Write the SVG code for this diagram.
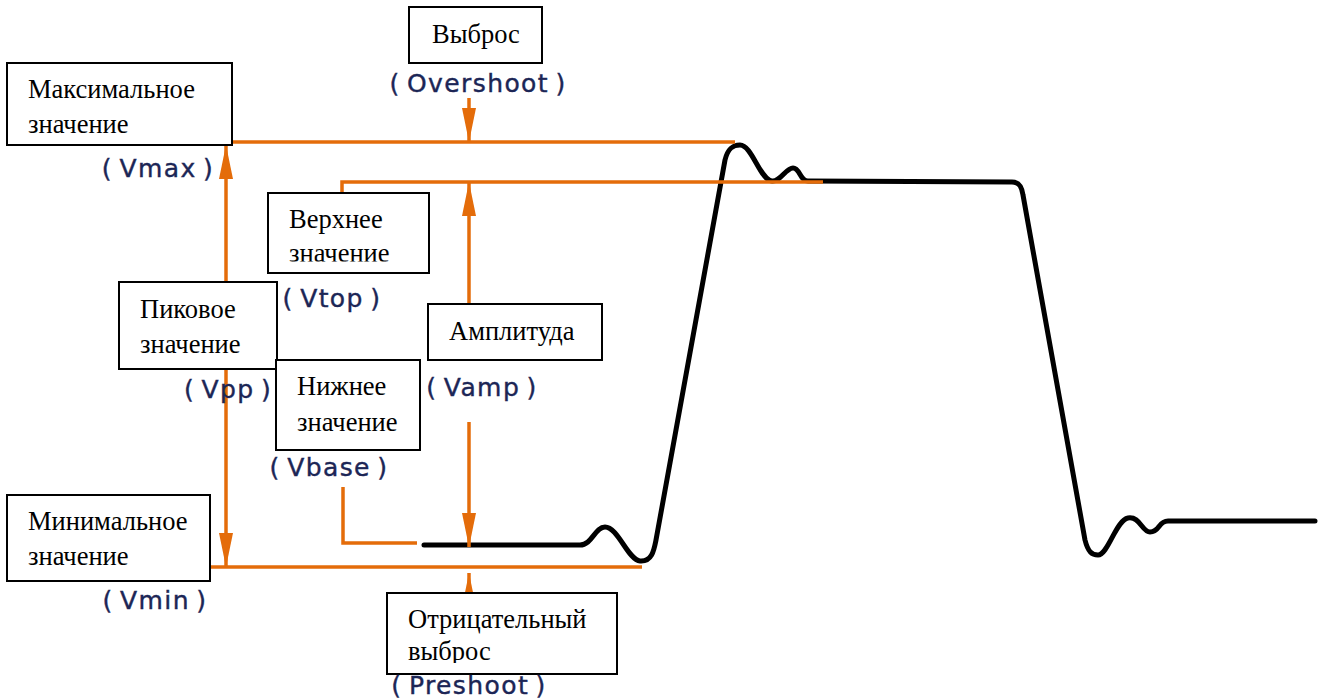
<svg xmlns="http://www.w3.org/2000/svg" width="1336" height="699" viewBox="0 0 1336 699">
<style>
.box{fill:#fff;stroke:#000;stroke-width:2}
.t{font-family:"Liberation Serif","Times New Roman",serif;font-size:26.5px;fill:#000}
.lbl{font-family:"DejaVu Sans","Noto Sans",sans-serif;font-size:25px;letter-spacing:1.4px;fill:#1c2656;stroke:#1c2656;stroke-width:0.4;text-anchor:middle}
.or{fill:none;stroke:#E46C0A;stroke-width:3.5}
.sig{fill:none;stroke:#000;stroke-width:5;stroke-linejoin:round;stroke-linecap:round}
</style>
<defs>
<marker id="ah" viewBox="0 0 34 14" refX="34" refY="7" markerWidth="34" markerHeight="14" markerUnits="userSpaceOnUse" orient="auto">
<path d="M0,0 L34,7 L0,14 z" fill="#E46C0A"/>
</marker>
<marker id="ahs" viewBox="0 0 34 14" refX="0" refY="7" markerWidth="34" markerHeight="14" markerUnits="userSpaceOnUse" orient="auto">
<path d="M34,0 L0,7 L34,14 z" fill="#E46C0A"/>
</marker>
<clipPath id="c1"><rect x="268" y="193" width="161" height="68.5"/></clipPath>
<clipPath id="c2"><rect x="387" y="593" width="230" height="70"/></clipPath>
</defs>
<rect width="1336" height="699" fill="#fff"/>
<g id="signal">
<path class="sig" d="M424,545 L580,545 C592,545 595,527 605,527 C618,527 628,560 640,561 C652,562 654,550 656,540 L725,160 C728,148 733,145 740,145 C752,145 760,180 772,181 C780,182 786,168 793,168 C800,168 800,181 808,181 L1012,182 C1020,182 1022,188 1023,195 L1085,540 C1088,552 1092,555 1098,555 C1108,555 1116,520 1128,518 C1140,516 1142,532 1150,532 C1160,532 1158,521 1168,521 L1315,521"/>
</g>
<g id="connectors">
<line class="or" x1="232" y1="142" x2="735" y2="142"/>
<polyline class="or" points="342,193 342,182 823,182"/>
<line class="or" x1="210" y1="567" x2="642" y2="567"/>
<polyline class="or" points="343,487 343,543 417,543"/>
<line class="or" x1="226" y1="145" x2="226" y2="567" marker-start="url(#ahs)" marker-end="url(#ah)"/>
<line class="or" x1="469" y1="98" x2="469" y2="142" marker-end="url(#ah)"/>
<line class="or" x1="469" y1="304" x2="469" y2="182" marker-end="url(#ah)"/>
<line class="or" x1="469" y1="422" x2="469" y2="547" marker-end="url(#ah)"/>
<line class="or" x1="469" y1="612" x2="469" y2="573" marker-end="url(#ah)"/>
</g>
<g id="vmax">
<rect class="box" x="7" y="63" width="225" height="82"/>
<text class="t" x="28" y="98">Максимальное</text>
<text class="t" x="28" y="133">значение</text>
<text class="lbl" x="158" y="177">(&#8201;Vmax&#8201;)</text>
</g>
<g id="overshoot">
<rect class="box" x="409" y="7" width="133" height="56"/>
<text class="t" x="432" y="43">Выброс</text>
<text class="lbl" x="478" y="92">(&#8201;Overshoot&#8201;)</text>
</g>
<g id="vtop">
<rect class="box" x="268" y="193" width="161" height="80"/>
<g clip-path="url(#c1)">
<text class="t" x="289" y="228">Верхнее</text>
<text class="t" x="289" y="262">значение</text>
</g>
<text class="lbl" x="332" y="307">(&#8201;Vtop&#8201;)</text>
</g>
<g id="vpp">
<rect class="box" x="119" y="282" width="158" height="87"/>
<text class="t" x="140" y="318">Пиковое</text>
<text class="t" x="140" y="353">значение</text>
<text class="lbl" x="228" y="398">(&#8201;Vpp&#8201;)</text>
</g>
<g id="vamp">
<rect class="box" x="428" y="304" width="174" height="56"/>
<text class="t" x="449" y="340">Амплитуда</text>
<text class="lbl" x="482" y="396">(&#8201;Vamp&#8201;)</text>
</g>
<g id="vbase">
<rect class="box" x="276" y="360" width="144" height="90"/>
<text class="t" x="297" y="395">Нижнее</text>
<text class="t" x="297" y="431">значение</text>
<text class="lbl" x="329" y="476">(&#8201;Vbase&#8201;)</text>
</g>
<g id="vmin">
<rect class="box" x="7" y="495" width="203" height="86"/>
<text class="t" x="28" y="530">Минимальное</text>
<text class="t" x="28" y="565">значение</text>
<text class="lbl" x="155" y="609">(&#8201;Vmin&#8201;)</text>
</g>
<g id="preshoot">
<rect class="box" x="387" y="593" width="230" height="81"/>
<g clip-path="url(#c2)">
<text class="t" x="408" y="628">Отрицательный</text>
<text class="t" x="408" y="660">выброс</text>
</g>
<text class="lbl" x="469" y="694">(&#8201;Preshoot&#8201;)</text>
</g>
</svg>
